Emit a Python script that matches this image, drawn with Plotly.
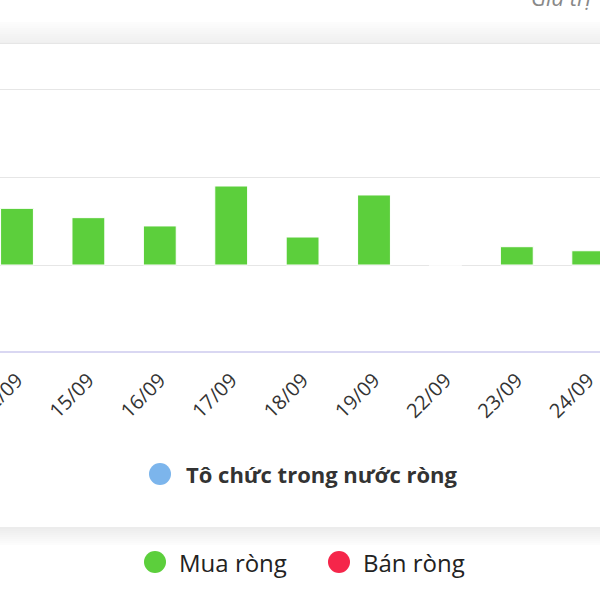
import plotly.graph_objects as go

# ---- data ----
dates = ["12/09", "15/09", "16/09", "17/09", "18/09", "19/09", "22/09", "23/09", "24/09"]
net_values = [32.2, 26.9, 22.2, 44.9, 15.9, 39.8, 0.0, 10.4, 8.1]
series_name = "Tô chức trong nước ròng"
legend_labels = ["Mua ròng", "Bán ròng"]
unit_label = "Giá trị"

GREEN = "rgb(92,207,60)"
BLUE = "#7cb5ec"
RED = "#f5264a"

W, H = 600, 600


def py(px):
    return 1 - px / H


def pxx(px):
    return px / W


fig = go.Figure()
fig.add_trace(go.Bar(
    x=list(range(len(dates))), y=net_values, name=series_name,
    width=0.46,
    marker=dict(color=GREEN, line=dict(color="white", width=1)),
    showlegend=False,
))

shapes = []
# top card shadow band (gradient)
n = 11
for i in range(n):
    y0 = 22 + i * 2
    g = int(254 - (i + 1) * 1.3)
    shapes.append(dict(type="rect", xref="paper", yref="paper",
                       x0=0, x1=1, y0=py(y0 + 2), y1=py(y0),
                       fillcolor=f"rgb({g},{g},{g})", line=dict(width=0), layer="below"))
shapes.append(dict(type="line", xref="paper", yref="paper", x0=0, x1=1,
                   y0=py(43.5), y1=py(43.5), line=dict(color="#e6e6e6", width=1)))
# bottom card shadow band
m = 9
for i in range(m):
    y0 = 527 + i * 2
    g = int(236 + i * 2.1)
    shapes.append(dict(type="rect", xref="paper", yref="paper",
                       x0=0, x1=1, y0=py(y0 + 2), y1=py(y0),
                       fillcolor=f"rgb({g},{g},{g})", line=dict(width=0), layer="below"))


# legend dots
def dot(cx, cy, color, r=11):
    return dict(type="circle", xref="paper", yref="paper",
                x0=pxx(cx - r), x1=pxx(cx + r), y0=py(cy + r), y1=py(cy - r),
                fillcolor=color, line=dict(width=0))


shapes.append(dot(160, 474, BLUE))
shapes.append(dot(155, 562, GREEN))
shapes.append(dot(339, 562, RED))

annotations = [
    dict(text=f"<b>{series_name}</b>", xref="paper", yref="paper",
         x=pxx(184), y=py(474), xanchor="left", yanchor="middle", showarrow=False,
         font=dict(family="Open Sans", size=22, color="#333333")),
    dict(text=legend_labels[0], xref="paper", yref="paper",
         x=pxx(177), y=py(562), xanchor="left", yanchor="middle", showarrow=False,
         font=dict(family="Open Sans", size=24, color="#222222")),
    dict(text=legend_labels[1], xref="paper", yref="paper",
         x=pxx(361), y=py(562), xanchor="left", yanchor="middle", showarrow=False,
         font=dict(family="Open Sans", size=24, color="#222222")),
    dict(text=f"<i>{unit_label}</i>", xref="paper", yref="paper",
         x=pxx(529), y=py(14), xanchor="left", yanchor="bottom", showarrow=False,
         font=dict(family="Open Sans", size=22, color="#888888")),
]

fig.update_layout(
    width=W, height=H,
    margin=dict(l=0, r=0, t=0, b=0, autoexpand=False),
    paper_bgcolor="white", plot_bgcolor="white",
    shapes=shapes, annotations=annotations,
    showlegend=False,
    xaxis=dict(
        range=[-0.238, 8.165], tickmode="array",
        tickvals=list(range(len(dates))), ticktext=dates,
        tickangle=-45, showgrid=False, zeroline=False,
        showline=True, linecolor="#d9d7f2", linewidth=2,
        ticks="", tickfont=dict(family="Open Sans", size=20, color="#333333"),
        ticklabeloverflow="allow", ticklabelstandoff=8,
        automargin=False, anchor="y",
    ),
    yaxis=dict(
        domain=[py(350.7), py(44)], range=[-48.7, 125.6],
        dtick=50, tick0=0, showgrid=True, gridcolor="#e6e6e6", gridwidth=1,
        zeroline=True, zerolinecolor="#e6e6e6", zerolinewidth=1,
        showticklabels=False, ticks="", showline=False, automargin=False,
    ),
)

fig.write_html("out.html", config={"displayModeBar": False},
               post_script="document.body.style.margin='0';document.body.style.overflow='hidden';")
